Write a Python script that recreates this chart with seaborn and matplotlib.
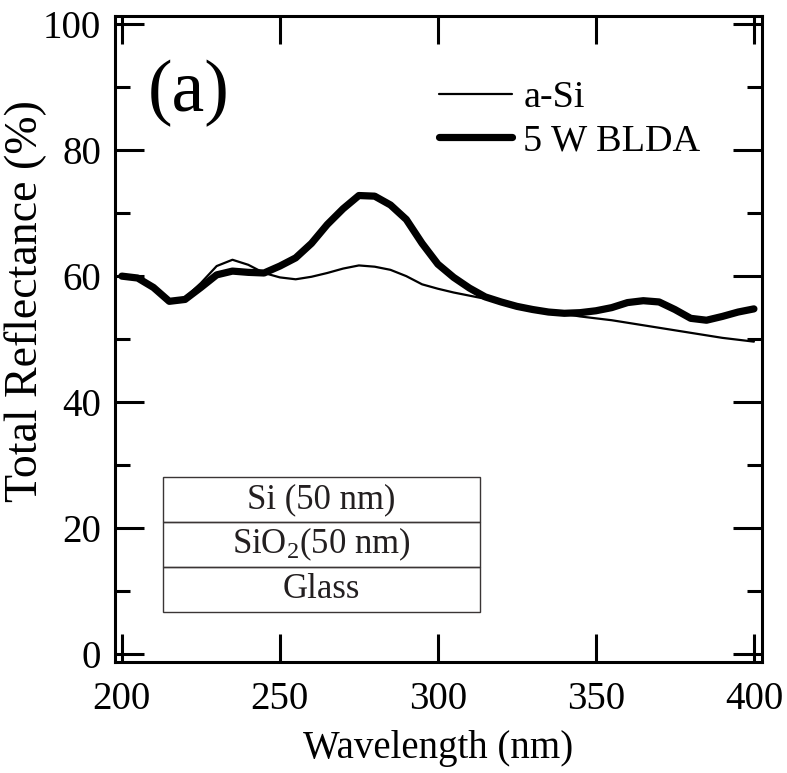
import matplotlib
matplotlib.use("Agg")
import matplotlib.pyplot as plt
import seaborn as sns
import pandas as pd
from matplotlib.patches import Rectangle

wavelength = [200, 205, 210, 215, 220, 225, 230, 235, 240, 245,
              250, 255, 260, 265, 270, 275, 280, 285, 290, 295,
              300, 305, 310, 315, 320, 325, 330, 335, 340, 345,
              350, 355, 360, 365, 370, 375, 380, 385, 390, 395, 400]

a_si = [60.0, 59.6, 58.0, 56.2, 56.6, 58.9, 61.6, 62.6, 61.8, 60.5,
        59.8, 59.5, 59.9, 60.5, 61.2, 61.7, 61.5, 61.0, 60.0, 58.7,
        58.0, 57.4, 56.9, 56.4, 55.9, 55.3, 54.8, 54.4, 54.0, 53.6,
        53.3, 53.0, 52.6, 52.2, 51.8, 51.4, 51.0, 50.6, 50.2, 49.9, 49.6]

blda = [60.0, 59.7, 58.2, 56.0, 56.3, 58.2, 60.2, 60.8, 60.6, 60.5,
        61.6, 62.9, 65.2, 68.2, 70.7, 72.8, 72.7, 71.3, 69.0, 65.2,
        61.9, 59.8, 58.1, 56.7, 55.9, 55.2, 54.7, 54.3, 54.1, 54.2,
        54.5, 55.0, 55.8, 56.1, 55.9, 54.7, 53.3, 53.0, 53.6, 54.3, 54.8]

series_names = ["a-Si", "5 W BLDA"]
layers = ["Si (50 nm)", "SiO$_2$(50 nm)", "Glass"]
x_ticks = [200, 250, 300, 350, 400]
y_ticks = [0, 20, 40, 60, 80, 100]

sns.set_style("ticks")
plt.rcParams["font.family"] = ["Liberation Serif", "DejaVu Serif"]
plt.rcParams["mathtext.fontset"] = "custom"
plt.rcParams["mathtext.rm"] = "Liberation Serif"
plt.rcParams["mathtext.it"] = "Liberation Serif:italic"
for k in ["text.color", "axes.labelcolor", "xtick.color", "ytick.color", "axes.edgecolor"]:
    plt.rcParams[k] = "black"

df = pd.DataFrame({
    "Wavelength": wavelength * 2,
    "R": a_si + blda,
    "Sample": [series_names[0]] * len(wavelength) + [series_names[1]] * len(wavelength),
})

fig = plt.figure(figsize=(7.87, 7.73), dpi=100)
ax = fig.add_axes([0.146, 0.1436, 0.822, 0.8354])

sns.lineplot(data=df[df.Sample == series_names[0]], x="Wavelength", y="R",
             color="black", linewidth=1.6, ax=ax, label=series_names[0])
sns.lineplot(data=df[df.Sample == series_names[1]], x="Wavelength", y="R",
             color="black", linewidth=5.2, ax=ax, label=series_names[1])

ax.set_xlim(197.8, 402.5)
ax.set_ylim(-1.27, 101.27)
ax.set_xticks(x_ticks)
ax.set_yticks(y_ticks)
ax.set_yticks([10, 30, 50, 70, 90], minor=True)

for s in ax.spines.values():
    s.set_linewidth(2.2)
    s.set_color("black")

ax.tick_params(axis="both", which="major", direction="in", width=2.2,
               top=True, right=True, labelsize=28, color="black")
ax.tick_params(axis="x", which="major", length=20.5, pad=14)
ax.tick_params(axis="y", which="major", length=21, pad=10)
ax.tick_params(axis="y", which="minor", direction="in", width=2.2,
               length=11, left=True, right=True)
ax.tick_params(axis="x", which="minor", bottom=False, top=False)

ax.set_xlabel("Wavelength (nm)", fontsize=28, labelpad=8)
ax.set_ylabel("Total Reflectance (%)", fontsize=33)
ax.yaxis.set_label_coords(-0.105, 0.559)

ax.text(0.051, 0.88, "(a)", transform=ax.transAxes, fontsize=53,
        ha="left", va="center")

leg = ax.legend(loc="upper right", bbox_to_anchor=(0.905, 0.901), frameon=False,
                fontsize=27.5, handlelength=1.9, handletextpad=0.3,
                labelspacing=0.22, borderaxespad=0, borderpad=0)

# layer stack inset
box_x0, box_x1 = 213.0, 313.3
edges = [28.1, 20.95, 13.8, 6.67]
for i, name in enumerate(layers):
    top, bot = edges[i], edges[i + 1]
    ax.add_patch(Rectangle((box_x0, bot), box_x1 - box_x0, top - bot,
                           fill=False, edgecolor="#3a3535", linewidth=1.0, zorder=3))
    ax.text((box_x0 + box_x1) / 2, (top + bot) / 2, name, ha="center",
            va="center", fontsize=25, color="#231f20")

fig.savefig("out.png", dpi=100)
